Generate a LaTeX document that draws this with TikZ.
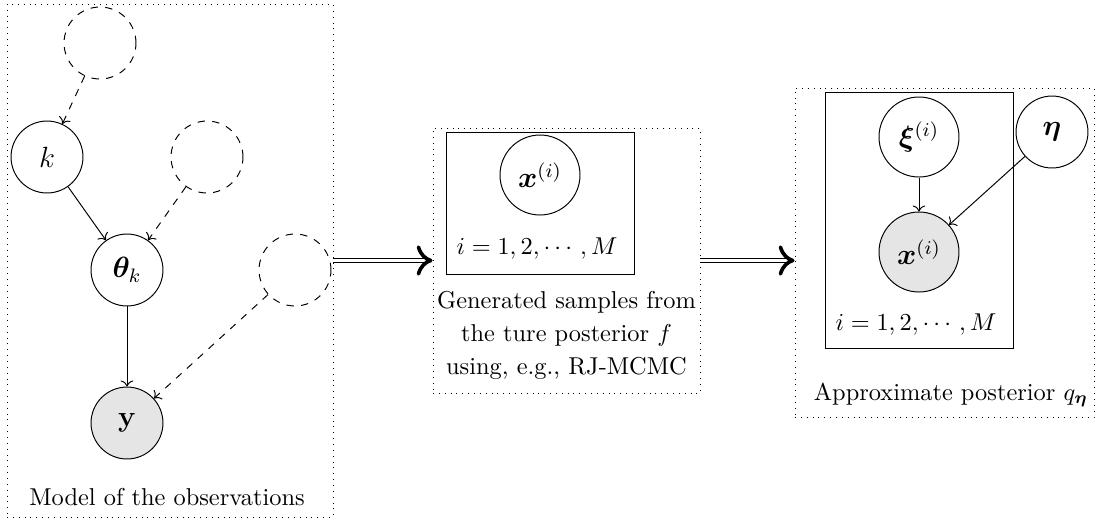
\documentclass[tikz,border=0pt]{standalone}
\usepackage{amsmath,bm}
\usetikzlibrary{arrows.meta}
\begin{document}
\begin{tikzpicture}[x=0.41pt,y=-0.41pt,
  latent/.style={circle,draw,inner sep=0pt,minimum size=29.5pt,font=\large},
  biglatent/.style={latent,minimum size=32.8pt},
  observed/.style={latent,fill=gray!20},
  bigobserved/.style={biglatent,fill=gray!20},
  hyper/.style={latent,dashed},
  edge/.style={->},
  dedge/.style={->,dashed},
  panel/.style={draw,dotted,inner sep=0pt},
  plate/.style={draw,inner sep=0pt},
  bigarrow/.style={double,double distance=1.3pt,line width=0.5pt,-{Computer Modern Rightarrow[length=6.5pt,width=12.5pt,line width=1.5pt]}},
]
\useasboundingbox (0,0) rectangle (1096,520);
% left panel
\node[panel,minimum width=326*0.41pt,minimum height=513*0.41pt] (lbox) at (170,260.5) {};
\node[hyper] (h1) at (100,43) {};
\node[latent] (k) at (47,157) {$k$};
\node[hyper] (h2) at (207,157) {};
\node[latent] (theta) at (127,270) {$\bm{\theta}_k$};
\node[hyper] (h3) at (295,270) {};
\node[observed] (y) at (127,423) {$\mathbf{y}$};
\node (ltxt) at (167,497) {Model of the observations};
\draw[dedge] (h1) -- (k);
\draw[edge] (k) -- (theta);
\draw[dedge] (h2) -- (theta);
\draw[edge] (theta) -- (y);
\draw[dedge] (h3) -- (y);
% middle panel
\node[panel,minimum width=267*0.41pt,minimum height=265*0.41pt] (mbox) at (566.5,260.5) {};
\node[plate,minimum width=188*0.41pt,minimum height=142*0.41pt] (mplate) at (540,203) {};
\node[biglatent] (xs) at (540,175) {$\bm{x}^{(i)}$};
\node (mi) at (537,249) {$i=1,2,\cdots,M$};
\node[align=center,font=\fontsize{10}{13.5}\selectfont] (mtxt) at (566.5,335) {Generated samples from\\the ture posterior $f$\\using, e.g., RJ-MCMC};
% right panel
\node[panel,minimum width=299*0.41pt,minimum height=329*0.41pt] (rbox) at (944.5,252.5) {};
\node[plate,minimum width=188*0.41pt,minimum height=256*0.41pt] (rplate) at (919,220) {};
\node[biglatent] (xi) at (919,137) {$\bm{\xi}^{(i)}$};
\node[latent] (eta) at (1052,132) {$\bm{\eta}$};
\node[bigobserved] (xo) at (919,252) {$\bm{x}^{(i)}$};
\node (ri) at (916,325) {$i=1,2,\cdots,M$};
\node (rtxt) at (951,395) {Approximate posterior $q_{\bm{\eta}}$};
\draw[edge] (xi) -- (xo);
\draw[edge] (eta) -- (xo);
% big arrows
\draw[bigarrow] (lbox.east) -- (mbox.west);
\draw[bigarrow] (mbox.east) -- (mbox.east -| rbox.west);
\end{tikzpicture}
\end{document}
